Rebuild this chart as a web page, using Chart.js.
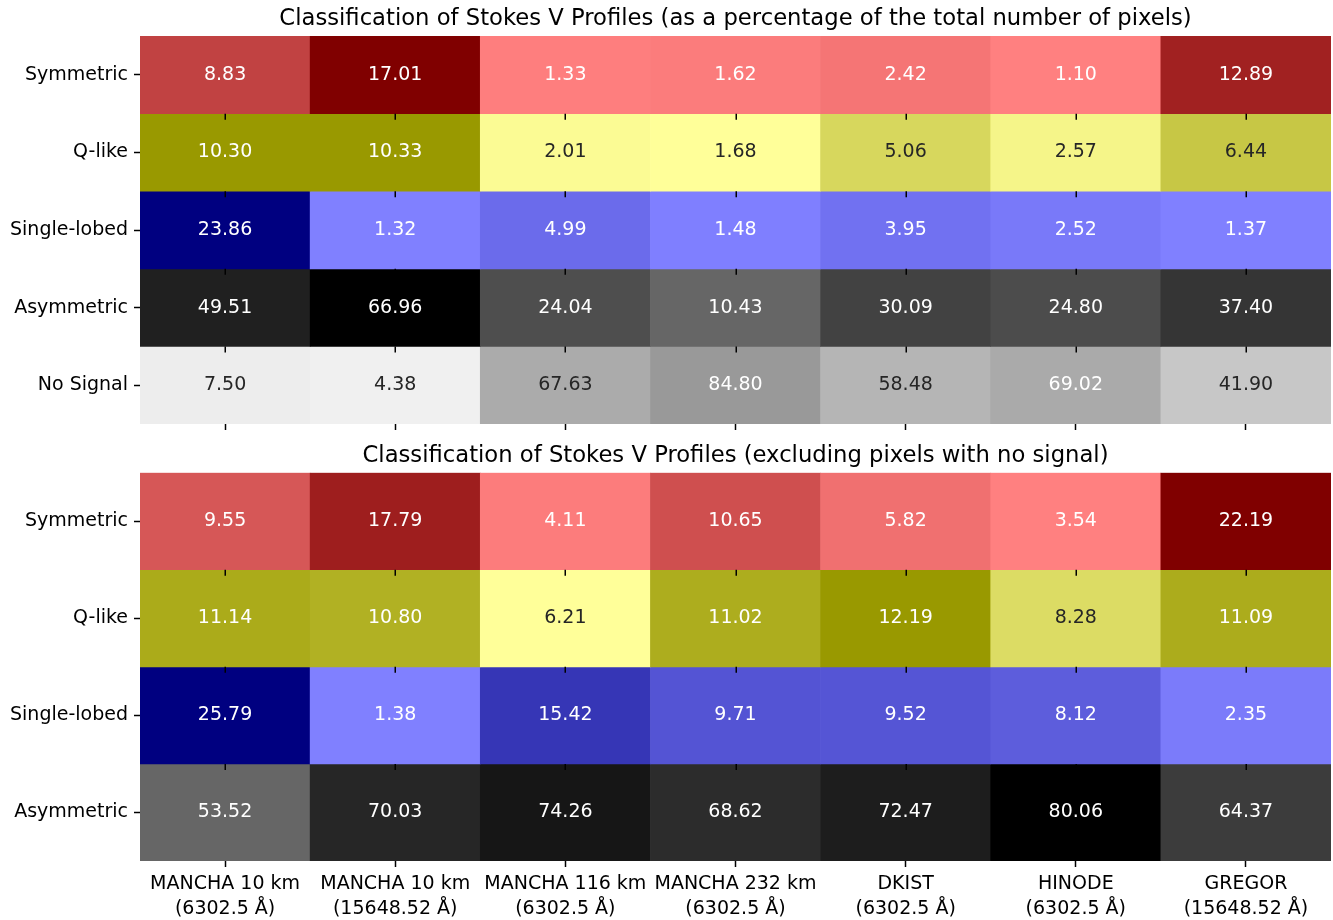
<!DOCTYPE html>
<html>
<head>
<meta charset="utf-8">
<title>Classification of Stokes V Profiles</title>
<script src="https://cdn.jsdelivr.net/npm/chart.js@4.4.1/dist/chart.umd.min.js"></script>
<style>
  html, body { margin: 0; padding: 0; background: #ffffff; }
  #wrap { position: relative; width: 1333px; height: 920px; }
  canvas { position: absolute; left: 0; }
  #chartAll { top: 0; }
  #chartSignal { top: 432px; }
</style>
</head>
<body>
<div id="wrap">
  <canvas id="chartAll" width="1333" height="432"></canvas>
  <canvas id="chartSignal" width="1333" height="488"></canvas>
</div>
<script>
// Simulations / instruments (x categories), two-line tick labels
const columnLabels = [
  ['MANCHA 10 km', '(6302.5 Å)'],
  ['MANCHA 10 km', '(15648.52 Å)'],
  ['MANCHA 116 km', '(6302.5 Å)'],
  ['MANCHA 232 km', '(6302.5 Å)'],
  ['DKIST', '(6302.5 Å)'],
  ['HINODE', '(6302.5 Å)'],
  ['GREGOR', '(15648.52 Å)']
];

// Profile classes (y categories)
const classesAll = ['Symmetric', 'Q-like', 'Single-lobed', 'Asymmetric', 'No Signal'];
const classesSignal = ['Symmetric', 'Q-like', 'Single-lobed', 'Asymmetric'];

// Percentages of the total number of pixels
const allSymmetric   = [8.83, 17.01, 1.33, 1.62, 2.42, 1.10, 12.89];
const allQLike       = [10.30, 10.33, 2.01, 1.68, 5.06, 2.57, 6.44];
const allSingleLobed = [23.86, 1.32, 4.99, 1.48, 3.95, 2.52, 1.37];
const allAsymmetric  = [49.51, 66.96, 24.04, 10.43, 30.09, 24.80, 37.40];
const allNoSignal    = [7.50, 4.38, 67.63, 84.80, 58.48, 69.02, 41.90];

// Percentages of the pixels that carry a signal
const sigSymmetric   = [9.55, 17.79, 4.11, 10.65, 5.82, 3.54, 22.19];
const sigQLike       = [11.14, 10.80, 6.21, 11.02, 12.19, 8.28, 11.09];
const sigSingleLobed = [25.79, 1.38, 15.42, 9.71, 9.52, 8.12, 2.35];
const sigAsymmetric  = [53.52, 70.03, 74.26, 68.62, 72.47, 80.06, 64.37];

// Per-class colour ramps (low value -> high value)
const classRamps = {
  'Symmetric':    [[255, 128, 128], [128, 0, 0]],
  'Q-like':       [[255, 255, 153], [153, 153, 0]],
  'Single-lobed': [[128, 128, 255], [0, 0, 128]],
  'Asymmetric':   [[102, 102, 102], [0, 0, 0]],
  'No Signal':    [[240, 240, 240], [153, 153, 153]]
};

const FONT = 'DejaVu Sans';
Chart.defaults.font.family = FONT;
Chart.defaults.font.size = 19;
Chart.defaults.color = '#000000';

// 256-step ramp lookup, each row scaled to its own min/max
function rampColor(ramp, v, vmin, vmax) {
  const t = vmax > vmin ? (v - vmin) / (vmax - vmin) : 0;
  const idx = Math.min(255, Math.max(0, Math.floor(t * 256)));
  const f = idx / 255;
  return ramp[0].map((a, k) => a + (ramp[1][k] - a) * f);
}
function luminance(rgb) {
  const lin = rgb.map(c => {
    c = c / 255;
    return c <= 0.03928 ? c / 12.92 : Math.pow((c + 0.055) / 1.055, 2.4);
  });
  return 0.2126 * lin[0] + 0.7152 * lin[1] + 0.0722 * lin[2];
}
function toCss(rgb) {
  return 'rgb(' + rgb.map(c => Math.round(c)).join(',') + ')';
}

// Value labels centred in each cell
const cellLabels = {
  id: 'cellLabels',
  afterDatasetsDraw(chart) {
    const ctx = chart.ctx;
    ctx.save();
    ctx.font = '19px "' + FONT + '"';
    ctx.textAlign = 'center';
    ctx.textBaseline = 'middle';
    chart.data.datasets.forEach((ds, di) => {
      const meta = chart.getDatasetMeta(di);
      meta.data.forEach((el, j) => {
        const cy = (el.y + el.base) / 2;
        ctx.fillStyle = ds.textColors[j];
        ctx.fillText(ds.values[j].toFixed(2), el.x, cy);
      });
    });
    ctx.restore();
  }
};

// Short x tick marks under every row (each row is its own strip)
const rowTicks = {
  id: 'rowTicks',
  afterDatasetsDraw(chart) {
    const ctx = chart.ctx;
    const xs = chart.scales.x, ys = chart.scales.y;
    const n = chart.data.datasets.length;
    ctx.save();
    ctx.strokeStyle = '#000000';
    ctx.lineWidth = 1.5;
    for (let r = 1; r < n; r++) {
      const yp = ys.getPixelForValue(r);
      for (let j = 0; j < columnLabels.length; j++) {
        const xp = Math.round(xs.getPixelForValue(j)) + 0.25;
        ctx.beginPath();
        ctx.moveTo(xp, yp);
        ctx.lineTo(xp, yp + 6);
        ctx.stroke();
      }
    }
    ctx.restore();
  }
};

function buildDatasets(classes, rows) {
  return classes.map((name, r) => {
    const vals = rows[r];
    const vmin = Math.min(...vals), vmax = Math.max(...vals);
    const rgbs = vals.map(v => rampColor(classRamps[name], v, vmin, vmax));
    return {
      label: name,
      values: vals,
      data: vals.map(() => [r, r + 1]),
      backgroundColor: rgbs.map(toCss),
      textColors: rgbs.map(c => luminance(c) > 0.408 ? '#262626' : '#ffffff'),
      borderWidth: 0,
      grouped: false,
      barPercentage: 1,
      categoryPercentage: 1
    };
  });
}

function heatmap(canvasId, titleText, classes, rows, cfg) {
  return new Chart(document.getElementById(canvasId), {
    type: 'bar',
    data: {
      labels: columnLabels,
      datasets: buildDatasets(classes, rows)
    },
    options: {
      responsive: false,
      animation: false,
      events: [],
      layout: { padding: { left: 0, right: 2, top: 0, bottom: 0 } },
      plugins: {
        legend: { display: false },
        tooltip: { enabled: false },
        title: {
          display: true,
          text: titleText,
          fullSize: false,
          color: '#000000',
          font: { family: FONT, size: 22.7, weight: 'normal', lineHeight: 1.2 },
          padding: cfg.titlePadding
        }
      },
      scales: {
        x: {
          type: 'category',
          offset: true,
          border: { display: false },
          grid: {
            offset: false,
            drawOnChartArea: false,
            drawTicks: true,
            tickLength: 6,
            tickWidth: 1.5,
            tickColor: '#000000'
          },
          ticks: {
            display: cfg.showXLabels,
            maxRotation: 0,
            autoSkip: false,
            padding: 5,
            color: '#000000',
            font: { family: FONT, size: 19, lineHeight: 1.3 }
          },
          afterFit(s) {
            s.height = cfg.xAxisHeight;
            s.paddingLeft = 0; s.paddingRight = 0;
            s.paddingTop = 0; s.paddingBottom = 0;
          }
        },
        y: {
          type: 'linear',
          min: 0,
          max: classes.length,
          reverse: true,
          border: { display: false },
          grid: {
            drawOnChartArea: false,
            drawTicks: true,
            tickLength: 6,
            tickWidth: 1.5,
            tickColor: '#000000'
          },
          afterBuildTicks(s) {
            s.ticks = classes.map((_, i) => ({ value: i + 0.5 }));
          },
          ticks: {
            padding: 6,
            color: '#000000',
            font: { family: FONT, size: 19 },
            callback(value, index) { return classes[index]; }
          },
          afterFit(s) {
            s.width = 140;
            s.paddingTop = 0; s.paddingBottom = 0;
            s.paddingLeft = 0; s.paddingRight = 0;
          }
        }
      }
    },
    plugins: [cellLabels, rowTicks]
  });
}

heatmap('chartAll',
  'Classification of Stokes V Profiles (as a percentage of the total number of pixels)',
  classesAll,
  [allSymmetric, allQLike, allSingleLobed, allAsymmetric, allNoSignal],
  { showXLabels: false, xAxisHeight: 8, titlePadding: { top: 5.4, bottom: 3.4 } });

heatmap('chartSignal',
  'Classification of Stokes V Profiles (excluding pixels with no signal)',
  classesSignal,
  [sigSymmetric, sigQLike, sigSingleLobed, sigAsymmetric],
  { showXLabels: true, xAxisHeight: 59, titlePadding: { top: 10.2, bottom: 3.2 } });
</script>
</body>
</html>
